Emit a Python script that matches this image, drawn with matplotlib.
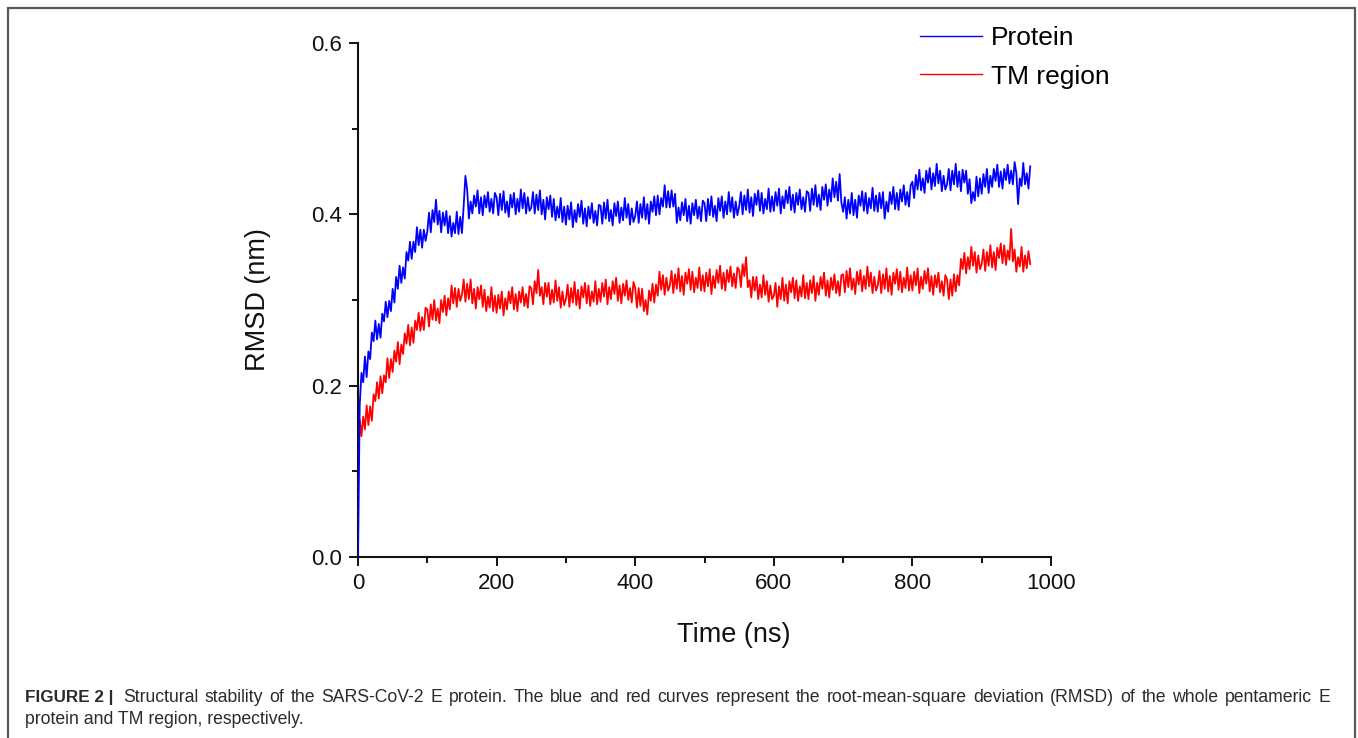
import numpy as np
import matplotlib.pyplot as plt
from matplotlib.lines import Line2D
from matplotlib.patches import Rectangle
from matplotlib.ticker import MultipleLocator

plt.rcParams['font.family'] = ['Liberation Sans', 'DejaVu Sans']

# RMSD (nm) of the whole pentameric E protein, one value every 2.5 ns (0 - 970 ns),
# read off the figure row by row (each row = 50 ns)
rmsd_protein = [
    0.000, 0.178, 0.215, 0.204, 0.234, 0.210, 0.240, 0.231, 0.262, 0.252, 0.276, 0.254, 0.272, 0.256, 0.284, 0.275, 0.298, 0.280, 0.299, 0.287,
    0.313, 0.297, 0.327, 0.313, 0.340, 0.320, 0.338, 0.325, 0.356, 0.346, 0.368, 0.348, 0.368, 0.356, 0.385, 0.364, 0.382, 0.361, 0.382, 0.369,
    0.380, 0.402, 0.379, 0.405, 0.391, 0.417, 0.388, 0.404, 0.379, 0.402, 0.387, 0.404, 0.378, 0.398, 0.374, 0.390, 0.378, 0.403, 0.377, 0.397,
    0.378, 0.410, 0.445, 0.429, 0.395, 0.415, 0.401, 0.422, 0.409, 0.428, 0.401, 0.420, 0.399, 0.422, 0.408, 0.426, 0.403, 0.418, 0.401, 0.425,
    0.420, 0.399, 0.424, 0.405, 0.427, 0.402, 0.415, 0.397, 0.423, 0.408, 0.425, 0.400, 0.418, 0.403, 0.429, 0.407, 0.425, 0.401, 0.420, 0.404,
    0.408, 0.426, 0.401, 0.423, 0.405, 0.428, 0.400, 0.417, 0.394, 0.420, 0.406, 0.422, 0.397, 0.418, 0.393, 0.409, 0.396, 0.419, 0.391, 0.409,
    0.388, 0.410, 0.394, 0.414, 0.385, 0.405, 0.391, 0.412, 0.397, 0.416, 0.389, 0.407, 0.386, 0.409, 0.395, 0.413, 0.390, 0.404, 0.387, 0.411,
    0.410, 0.389, 0.414, 0.395, 0.417, 0.392, 0.405, 0.387, 0.413, 0.398, 0.415, 0.390, 0.408, 0.393, 0.419, 0.396, 0.412, 0.388, 0.407, 0.391,
    0.398, 0.415, 0.390, 0.412, 0.396, 0.420, 0.394, 0.412, 0.389, 0.415, 0.403, 0.421, 0.399, 0.422, 0.400, 0.419, 0.409, 0.434, 0.408, 0.427,
    0.408, 0.428, 0.409, 0.424, 0.390, 0.408, 0.393, 0.414, 0.399, 0.418, 0.392, 0.410, 0.389, 0.413, 0.399, 0.417, 0.395, 0.409, 0.392, 0.416,
    0.413, 0.392, 0.418, 0.399, 0.421, 0.397, 0.410, 0.392, 0.419, 0.404, 0.421, 0.396, 0.415, 0.400, 0.426, 0.403, 0.420, 0.396, 0.415, 0.399,
    0.409, 0.426, 0.400, 0.422, 0.405, 0.429, 0.402, 0.420, 0.398, 0.424, 0.411, 0.428, 0.404, 0.425, 0.401, 0.418, 0.406, 0.430, 0.403, 0.421,
    0.404, 0.426, 0.410, 0.430, 0.401, 0.421, 0.407, 0.428, 0.413, 0.432, 0.405, 0.423, 0.402, 0.425, 0.411, 0.429, 0.406, 0.420, 0.403, 0.427,
    0.425, 0.404, 0.430, 0.411, 0.434, 0.409, 0.423, 0.405, 0.432, 0.417, 0.435, 0.410, 0.429, 0.415, 0.442, 0.420, 0.438, 0.416, 0.447, 0.414,
    0.403, 0.420, 0.395, 0.417, 0.401, 0.425, 0.399, 0.417, 0.396, 0.422, 0.410, 0.427, 0.404, 0.425, 0.401, 0.419, 0.407, 0.431, 0.404, 0.422,
    0.403, 0.425, 0.407, 0.426, 0.395, 0.415, 0.403, 0.426, 0.412, 0.432, 0.406, 0.425, 0.405, 0.429, 0.415, 0.434, 0.411, 0.426, 0.409, 0.434,
    0.438, 0.419, 0.446, 0.429, 0.452, 0.428, 0.442, 0.425, 0.451, 0.437, 0.454, 0.429, 0.448, 0.433, 0.459, 0.436, 0.451, 0.427, 0.445, 0.429,
    0.435, 0.453, 0.428, 0.451, 0.435, 0.459, 0.432, 0.450, 0.427, 0.452, 0.437, 0.451, 0.424, 0.441, 0.413, 0.426, 0.416, 0.444, 0.421, 0.442,
    0.424, 0.447, 0.432, 0.453, 0.425, 0.445, 0.432, 0.453, 0.439, 0.458, 0.432, 0.450, 0.430, 0.453, 0.440, 0.458, 0.436, 0.451, 0.435, 0.461,
    0.448, 0.412, 0.442, 0.433, 0.460, 0.435, 0.448, 0.430, 0.456,
]

# RMSD (nm) of the TM region, same sampling
rmsd_tm = [
    0.100, 0.160, 0.141, 0.164, 0.149, 0.177, 0.154, 0.176, 0.159, 0.190, 0.182, 0.204, 0.185, 0.211, 0.191, 0.212, 0.204, 0.232, 0.209, 0.231,
    0.216, 0.241, 0.228, 0.251, 0.225, 0.248, 0.237, 0.261, 0.249, 0.271, 0.247, 0.268, 0.250, 0.276, 0.265, 0.285, 0.264, 0.280, 0.265, 0.291,
    0.289, 0.269, 0.295, 0.277, 0.300, 0.276, 0.290, 0.273, 0.300, 0.286, 0.305, 0.282, 0.302, 0.289, 0.317, 0.296, 0.314, 0.292, 0.313, 0.299,
    0.306, 0.324, 0.298, 0.319, 0.301, 0.324, 0.296, 0.313, 0.290, 0.315, 0.301, 0.317, 0.292, 0.312, 0.287, 0.304, 0.291, 0.315, 0.287, 0.305,
    0.285, 0.306, 0.290, 0.310, 0.282, 0.302, 0.289, 0.310, 0.296, 0.315, 0.289, 0.307, 0.287, 0.310, 0.297, 0.315, 0.293, 0.307, 0.291, 0.316,
    0.314, 0.295, 0.322, 0.308, 0.335, 0.305, 0.315, 0.295, 0.320, 0.304, 0.320, 0.295, 0.312, 0.297, 0.323, 0.299, 0.315, 0.291, 0.310, 0.294,
    0.301, 0.318, 0.292, 0.314, 0.297, 0.321, 0.294, 0.312, 0.290, 0.316, 0.303, 0.320, 0.296, 0.317, 0.293, 0.310, 0.298, 0.322, 0.295, 0.313,
    0.298, 0.320, 0.304, 0.324, 0.295, 0.315, 0.301, 0.322, 0.307, 0.326, 0.299, 0.317, 0.296, 0.319, 0.305, 0.323, 0.300, 0.314, 0.297, 0.321,
    0.314, 0.291, 0.314, 0.293, 0.313, 0.287, 0.300, 0.283, 0.311, 0.299, 0.319, 0.297, 0.318, 0.305, 0.333, 0.312, 0.329, 0.306, 0.326, 0.311,
    0.317, 0.334, 0.308, 0.330, 0.313, 0.337, 0.310, 0.328, 0.306, 0.332, 0.319, 0.336, 0.312, 0.333, 0.309, 0.326, 0.314, 0.338, 0.311, 0.329,
    0.310, 0.332, 0.316, 0.336, 0.307, 0.328, 0.314, 0.335, 0.320, 0.340, 0.313, 0.332, 0.311, 0.335, 0.321, 0.339, 0.316, 0.331, 0.314, 0.338,
    0.335, 0.315, 0.342, 0.328, 0.350, 0.315, 0.323, 0.303, 0.327, 0.311, 0.327, 0.301, 0.318, 0.303, 0.329, 0.306, 0.322, 0.298, 0.317, 0.301,
    0.305, 0.320, 0.292, 0.316, 0.301, 0.326, 0.299, 0.318, 0.296, 0.322, 0.309, 0.326, 0.302, 0.323, 0.299, 0.316, 0.304, 0.329, 0.302, 0.320,
    0.301, 0.323, 0.308, 0.328, 0.299, 0.320, 0.306, 0.327, 0.313, 0.332, 0.305, 0.323, 0.303, 0.326, 0.312, 0.330, 0.308, 0.322, 0.305, 0.329,
    0.330, 0.309, 0.334, 0.315, 0.337, 0.312, 0.325, 0.307, 0.333, 0.318, 0.335, 0.310, 0.328, 0.313, 0.339, 0.316, 0.332, 0.308, 0.327, 0.311,
    0.317, 0.334, 0.308, 0.330, 0.313, 0.337, 0.310, 0.328, 0.306, 0.332, 0.319, 0.336, 0.312, 0.333, 0.309, 0.326, 0.314, 0.338, 0.311, 0.329,
    0.311, 0.333, 0.317, 0.337, 0.308, 0.327, 0.313, 0.334, 0.319, 0.337, 0.310, 0.328, 0.306, 0.329, 0.315, 0.332, 0.309, 0.322, 0.305, 0.329,
    0.324, 0.301, 0.324, 0.305, 0.330, 0.310, 0.329, 0.317, 0.348, 0.336, 0.355, 0.331, 0.350, 0.336, 0.362, 0.340, 0.356, 0.332, 0.352, 0.336,
    0.342, 0.359, 0.334, 0.356, 0.340, 0.364, 0.338, 0.356, 0.335, 0.361, 0.349, 0.366, 0.343, 0.364, 0.341, 0.358, 0.347, 0.383, 0.345, 0.359,
    0.333, 0.350, 0.339, 0.362, 0.333, 0.352, 0.337, 0.357, 0.342,
]

sample_step_ns = 2.5
series_labels = ["Protein", "TM region"]
series_colors = ["#0000ff", "#ff0000"]

caption_bold = "FIGURE 2 |"
caption_line1 = ("Structural stability of the SARS-CoV-2 E protein. The blue and red curves "
                 "represent the root-mean-square deviation (RMSD) of the whole pentameric E")
caption_line2 = "protein and TM region, respectively."

W, H = 1358, 738
fig = plt.figure(figsize=(W / 100, H / 100), dpi=100)
ax = fig.add_axes([358 / W, 1 - 557 / H, (1051 - 358) / W, (557 - 43) / H])

t_protein = np.arange(len(rmsd_protein)) * sample_step_ns
t_tm = np.arange(len(rmsd_tm)) * sample_step_ns
ax.plot(t_protein, rmsd_protein, color=series_colors[0], lw=1.3, zorder=3)
ax.plot(t_tm, rmsd_tm, color=series_colors[1], lw=1.3, zorder=2)

ax.set_xlim(0, 1000)
ax.set_ylim(0, 0.6)
ax.xaxis.set_major_locator(MultipleLocator(200))
ax.xaxis.set_minor_locator(MultipleLocator(100))
ax.yaxis.set_major_locator(MultipleLocator(0.2))
ax.yaxis.set_minor_locator(MultipleLocator(0.1))
ax.yaxis.set_major_formatter(lambda v, p: f"{v:.1f}")

for side in ["top", "right"]:
    ax.spines[side].set_visible(False)
for side in ["left", "bottom"]:
    ax.spines[side].set_linewidth(1.5)
    ax.spines[side].set_color("#111111")

ax.tick_params(which="major", direction="out", length=6.5, width=1.4,
               labelsize=16, pad=5, colors="#111111")
ax.tick_params(which="minor", direction="out", length=4.3, width=1.4, colors="#111111")

ax.set_xlabel("Time (ns)", fontsize=19.5, color="#111111")
ax.set_ylabel("RMSD (nm)", fontsize=19.5, color="#111111")
ax.xaxis.set_label_coords(0.542, -0.152)
ax.xaxis.label.set_va("center")
ax.yaxis.set_label_coords(-0.144, 0.5)
ax.yaxis.label.set_va("center")

# legend handles are thin lines, as in the original
handles = [Line2D([], [], color=c, lw=1.0) for c in series_colors]
ax.legend(handles, series_labels, loc="upper left", bbox_to_anchor=(920 / W, 1 - 26 / H),
          bbox_transform=fig.transFigure, frameon=False, fontsize=19,
          handlelength=2.35, handletextpad=0.35, labelspacing=0.55,
          borderpad=0, borderaxespad=0)

# outer frame of the figure panel
fig.patches.append(Rectangle((8 / W, -0.01), (1355 - 8) / W, 1 - 8 / H + 0.01,
                             transform=fig.transFigure, fill=False,
                             edgecolor="#5a5a5a", lw=1.6))

# caption: bold lead-in, then a justified first line, then the second line
cap_kw = dict(fontsize=12.7, color="#2b2b2b", va="baseline")
y1, y2 = 1 - 702 / H, 1 - 724 / H
t_bold = fig.text(25 / W, y1, caption_bold, fontweight="bold",
                  fontsize=12.3, color="#2b2b2b", va="baseline")
fig.canvas.draw()
renderer = fig.canvas.get_renderer()
x_start = t_bold.get_window_extent(renderer).x1 + 10
x_end = 1330
words = caption_line1.split()
word_texts = [fig.text(0, y1, w, **cap_kw) for w in words]
widths = [t.get_window_extent(renderer).width for t in word_texts]
gap = (x_end - x_start - sum(widths)) / (len(words) - 1)
x = x_start
for t, w in zip(word_texts, widths):
    t.set_x(x / W)
    x += w + gap
fig.text(25 / W, y2, caption_line2, **cap_kw)

fig.savefig("out.png", dpi=100)
